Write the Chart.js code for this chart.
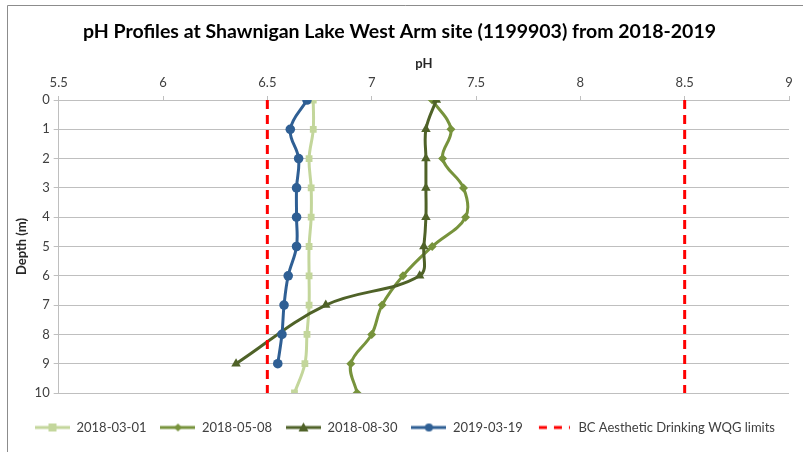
<!DOCTYPE html>
<html>
<head>
<meta charset="utf-8">
<script src="https://cdn.jsdelivr.net/npm/chart.js@4/dist/chart.umd.min.js"></script>
<style>
  html, body { margin: 0; padding: 0; background: #fff; }
  #wrap { width: 803px; height: 452px; position: relative; }
</style>
</head>
<body>
<div id="wrap"><canvas id="phChart" width="803" height="452"></canvas></div>
<script>
// pH profiles, depth (m) vs pH
const depths = [0, 1, 2, 3, 4, 5, 6, 7, 8, 9, 10];
const seriesNames = ['2018-03-01', '2018-05-08', '2018-08-30', '2019-03-19'];
const ph20180301 = [6.72, 6.72, 6.70, 6.71, 6.71, 6.70, 6.70, 6.70, 6.69, 6.68, 6.63];
const ph20180508 = [7.29, 7.38, 7.34, 7.44, 7.45, 7.29, 7.15, 7.05, 7.00, 6.90, 6.93];
const ph20180830 = [7.31, 7.26, 7.26, 7.26, 7.26, 7.25, 7.23, 6.78, null, 6.35]; // no reading at 8 m
const ph20190319 = [6.69, 6.61, 6.65, 6.64, 6.64, 6.64, 6.60, 6.58, 6.57, 6.55];
const limitName = 'BC Aesthetic Drinking WQG limits';
const limitLow = 6.5;
const limitHigh = 8.5;
const xTicks = [5.5, 6, 6.5, 7, 7.5, 8, 8.5, 9];

const FONT = 'Lato, "Open Sans", sans-serif';

function profile(values) {
    return values
        .map((v, i) => ({ x: v, y: depths[i] }))
        .filter(p => p.x !== null);
}

function limitLine(v) {
    return [{ x: v, y: depths[0] }, { x: v, y: depths[depths.length - 1] }];
}

// small canvases used as legend symbols (line + marker, Excel style)
function legendIcon(color, marker, dashed) {
    const c = document.createElement('canvas');
    c.width = 35; c.height = 12;
    const g = c.getContext('2d');
    g.strokeStyle = color;
    g.lineWidth = 3;
    if (dashed) {
        g.setLineDash([8, 7]);
        g.beginPath(); g.moveTo(2, 6); g.lineTo(33, 6); g.stroke();
        return c;
    }
    g.beginPath(); g.moveTo(0, 6); g.lineTo(35, 6); g.stroke();
    g.fillStyle = color;
    g.beginPath();
    if (marker === 'rect') g.rect(13.5, 2, 8, 8);
    else if (marker === 'rectRot') { g.moveTo(17.5, 2); g.lineTo(21.5, 6); g.lineTo(17.5, 10); g.lineTo(13.5, 6); g.closePath(); }
    else if (marker === 'triangle') { g.moveTo(17.5, 1); g.lineTo(22.5, 10); g.lineTo(12.5, 10); g.closePath(); }
    else g.arc(17.5, 6, 4, 0, Math.PI * 2);
    g.fill();
    return c;
}

const colors = ['#c3d69b', '#77933c', '#4f6228', '#2f5f94'];
const markers = ['rect', 'rectRot', 'triangle', 'circle'];
const radii = [4.8, 4.5, 5.5, 4.8];
const icons = colors.map((c, i) => legendIcon(c, markers[i], false));
const limitIcon = legendIcon('#ff0000', null, true);

const seriesValues = [ph20180301, ph20180508, ph20180830, ph20190319];

const datasets = seriesValues.map((vals, i) => ({
    label: seriesNames[i],
    data: profile(vals),
    showLine: true,
    borderColor: colors[i],
    backgroundColor: colors[i],
    borderWidth: 3,
    pointStyle: markers[i],
    pointRadius: radii[i],
    pointBorderWidth: 0,
    tension: 0.38,
    order: 4 - i
}));

datasets.push({
    label: limitName,
    data: limitLine(limitLow),
    showLine: true,
    borderColor: '#ff0000',
    backgroundColor: '#ff0000',
    borderWidth: 3,
    borderDash: [9, 6],
    pointRadius: 0,
    order: 0
});
datasets.push({
    label: limitName + ' (upper)',
    data: limitLine(limitHigh),
    showLine: true,
    borderColor: '#ff0000',
    backgroundColor: '#ff0000',
    borderWidth: 3,
    borderDash: [9, 6],
    pointRadius: 0,
    order: 0
});

// outer frame of the chart (cropped at the right and bottom)
const framePlugin = {
    id: 'frame',
    afterDraw(chart) {
        const ctx = chart.ctx;
        ctx.save();
        ctx.strokeStyle = '#8c8c8c';
        ctx.lineWidth = 1;
        ctx.beginPath();
        ctx.moveTo(7.5, 452); ctx.lineTo(7.5, 5.5); ctx.lineTo(803, 5.5);
        ctx.stroke();
        ctx.restore();
    }
};

const ctx = document.getElementById('phChart').getContext('2d');
const phChart = new Chart(ctx, {
    type: 'scatter',
    data: { datasets: datasets },
    options: {
        responsive: false,
        animation: false,
        devicePixelRatio: 1,
        layout: { padding: { left: 10, right: 14, top: 10, bottom: 8 } },
        scales: {
            x: {
                type: 'linear',
                position: 'top',
                min: 5.5,
                max: 9,
                afterBuildTicks: (axis) => { axis.ticks = xTicks.map(v => ({ value: v })); },
                grid: { drawOnChartArea: false, drawTicks: true, tickLength: 4, color: '#bfbfbf' },
                border: { color: '#bfbfbf' },
                ticks: {
                    color: '#404040', font: { family: FONT, size: 13 }, padding: 5, maxRotation: 0,
                    callback: (v) => String(v)
                },
                title: {
                    display: true, text: 'pH', color: '#262626',
                    font: { family: FONT, size: 13, weight: 'bold', lineHeight: 1 },
                    padding: { top: 14, bottom: 0 }
                }
            },
            // empty spacer between the plot and the legend
            gap: {
                type: 'linear',
                position: 'bottom',
                display: true,
                grid: { display: false, drawTicks: false },
                border: { display: false },
                ticks: { display: false },
                afterFit: (s) => { s.height = 14; }
            },
            y: {
                type: 'linear',
                reverse: true,
                min: 0,
                max: 10,
                afterBuildTicks: (axis) => { axis.ticks = depths.map(v => ({ value: v })); },
                grid: { color: '#bfbfbf', tickLength: 5 },
                border: { color: '#bfbfbf' },
                ticks: { color: '#404040', font: { family: FONT, size: 13 }, padding: 4, callback: (v) => String(v) },
                title: { display: true, text: 'Depth (m)', color: '#262626', font: { family: FONT, size: 13, weight: 'bold' }, padding: { top: 4, bottom: 1 } }
            }
        },
        plugins: {
            title: {
                display: true,
                text: 'pH Profiles at Shawnigan Lake West Arm site (1199903) from 2018-2019',
                color: '#000',
                font: { family: FONT, size: 19.5, weight: 'bold' },
                padding: { top: 10, bottom: 0 }
            },
            legend: {
                position: 'bottom',
                align: 'end',
                labels: {
                    usePointStyle: true,
                    pointStyleWidth: 35,
                    color: '#404040',
                    font: { family: FONT, size: 13 },
                    padding: 14,
                    sort: (a, b) => a.datasetIndex - b.datasetIndex,
                    filter: (item) => item.datasetIndex < 5,
                    generateLabels: (chart) => {
                        const items = Chart.defaults.plugins.legend.labels.generateLabels(chart);
                        items.forEach(it => {
                            it.pointStyle = it.datasetIndex < 4 ? icons[it.datasetIndex] : limitIcon;
                            it.lineWidth = 0;
                        });
                        return items;
                    }
                }
            },
            tooltip: { enabled: false }
        }
    },
    plugins: [framePlugin]
});
</script>
</body>
</html>
